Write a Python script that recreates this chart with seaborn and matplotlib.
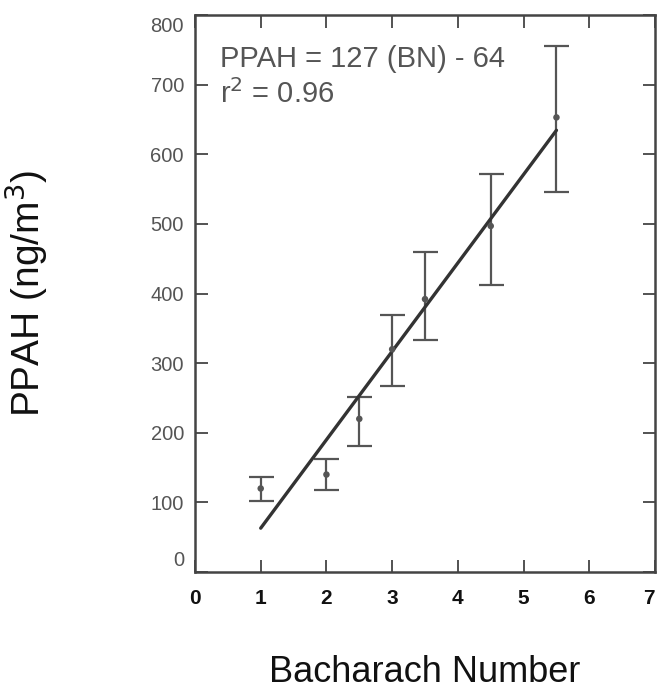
import numpy as np
import pandas as pd
import matplotlib
matplotlib.use("Agg")
import matplotlib.pyplot as plt
import matplotlib.transforms as mtransforms
import seaborn as sns

# values
bn = [1.0, 2.0, 2.5, 3.0, 3.5, 4.5, 5.5]
ppah = [120, 140, 220, 320, 392, 497, 653]
ppah_low = [102, 118, 181, 267, 333, 412, 546]
ppah_high = [137, 162, 252, 369, 460, 571, 755]

# regression reported on the chart
slope = 127
intercept = -64
fit_x = [1.0, 5.5]

x_ticks = [0, 1, 2, 3, 4, 5, 6, 7]
y_ticks = [0, 100, 200, 300, 400, 500, 600, 700, 800]

sns.set_theme(style="ticks")
plt.rcParams["font.family"] = ["Liberation Sans", "DejaVu Sans"]

df = pd.DataFrame({"BN": bn, "PPAH": ppah, "low": ppah_low, "high": ppah_high})
fit = pd.DataFrame({"BN": fit_x})
fit["PPAH"] = slope * fit["BN"] + intercept

fig = plt.figure(figsize=(6.57, 6.97), dpi=100)
ax = fig.add_axes([0.2968, 0.1793, 0.7002, 0.7991])

# error bars
ax.errorbar(df["BN"], df["PPAH"],
            yerr=[df["PPAH"] - df["low"], df["high"] - df["PPAH"]],
            fmt="none", ecolor="#555555", elinewidth=1.6, capsize=9, capthick=1.6)
sns.scatterplot(data=df, x="BN", y="PPAH", ax=ax, color="#555555", s=22,
                edgecolor="none", zorder=3)
sns.lineplot(data=fit, x="BN", y="PPAH", ax=ax, color="#333333", linewidth=2.4)

ax.set_xlim(0, 7)
ax.set_ylim(0, 800)
ax.set_xticks(x_ticks)
ax.set_yticks(y_ticks)

for s in ax.spines.values():
    s.set_color("#444444")
    s.set_linewidth(1.8)

ax.tick_params(direction="in", length=9, width=1.3, color="#444444",
               top=True, right=True, pad=8)
ax.tick_params(axis="x", labelsize=15, labelcolor="#111111", pad=12)
ax.tick_params(axis="y", labelsize=14.5, labelcolor="#555555", pad=8)
for lab in ax.get_xticklabels():
    lab.set_fontweight("bold")

# end labels sit a little inside the frame
ylabs = ax.get_yticklabels()
ylabs[0].set_transform(ylabs[0].get_transform() +
                       mtransforms.ScaledTranslation(0, 14 / 100, fig.dpi_scale_trans))
ylabs[-1].set_transform(ylabs[-1].get_transform() +
                        mtransforms.ScaledTranslation(0, -9 / 100, fig.dpi_scale_trans))
xlabs = ax.get_xticklabels()
xlabs[-1].set_transform(xlabs[-1].get_transform() +
                        mtransforms.ScaledTranslation(-6 / 100, 0, fig.dpi_scale_trans))

ax.set_xlabel("Bacharach Number", fontsize=26, color="#111111", labelpad=34)
ax.set_ylabel("PPAH (ng/m$^3$)", fontsize=28, color="#111111", labelpad=72)

ax.text(0.054, 0.907, "PPAH = 127 (BN) - 64", transform=ax.transAxes,
        fontsize=21, color="#555555", va="baseline", ha="left")
ax.text(0.054, 0.842, "r$^2$ = 0.96", transform=ax.transAxes,
        fontsize=21, color="#555555", va="baseline", ha="left")

fig.savefig("out.png", dpi=100)
